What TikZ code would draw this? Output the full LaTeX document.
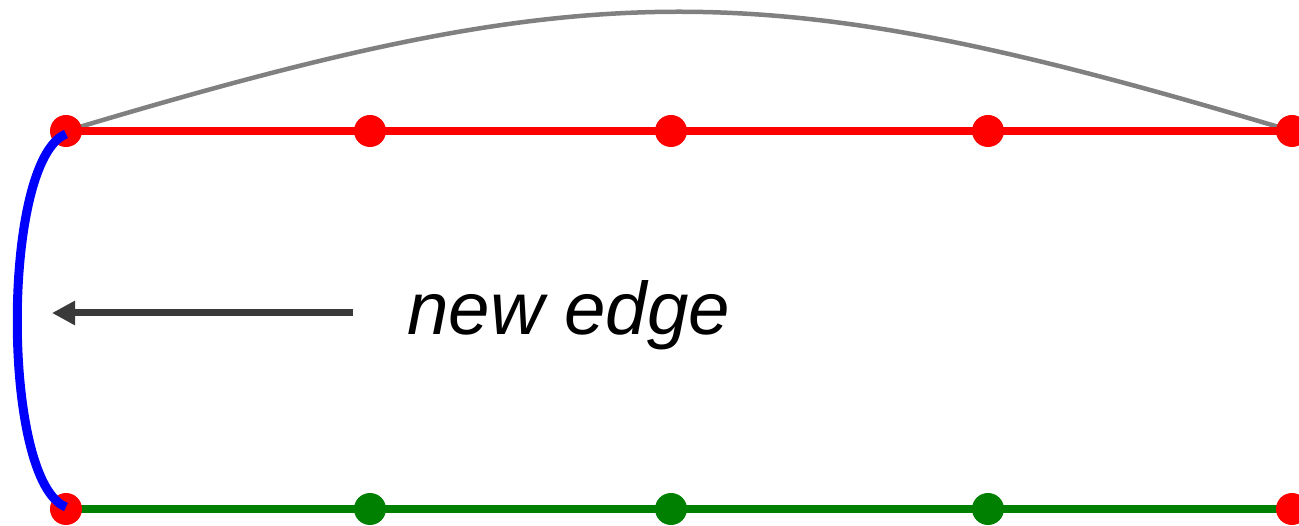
\documentclass[tikz,border=0pt]{standalone}
\usepackage{fontspec}
\setmainfont{Liberation Sans}
\usetikzlibrary{arrows.meta}
\definecolor{edgegray}{RGB}{128,128,128}
\definecolor{arrowgray}{RGB}{58,58,58}
\definecolor{pathgreen}{RGB}{0,128,0}
\tikzset{
  vred/.style={circle,fill=red,inner sep=0pt,minimum size=32pt},
  vgreen/.style={circle,fill=pathgreen,inner sep=0pt,minimum size=32pt},
  redpath/.style={draw=red,line width=8.5pt},
  greenpath/.style={draw=pathgreen,line width=8.5pt},
  graycurve/.style={draw=edgegray,line width=4.5pt},
  newedge/.style={draw=blue,line width=9pt},
  pointer/.style={draw=arrowgray,line width=7pt,-{Triangle[length=23pt,width=23pt]}},
}
\pgfdeclarelayer{bg}
\pgfsetlayers{bg,main}
\begin{document}
\begin{tikzpicture}[x=1pt,y=-1pt]
\useasboundingbox (0,0) rectangle (1299,526);
% vertices
\node[vred] (t1) at (66,131) {};
\node[vred] (t2) at (370,131) {};
\node[vred] (t3) at (671,131) {};
\node[vred] (t4) at (988,131) {};
\node[vred] (t5) at (1292,131) {};
\node[vred] (b1) at (66,509) {};
\node[vgreen] (b2) at (370,509) {};
\node[vgreen] (b3) at (671,509) {};
\node[vgreen] (b4) at (988,509) {};
\node[vred] (b5) at (1292,509) {};
% edges behind vertices
\begin{pgfonlayer}{bg}
\draw[graycurve] (t1.center) .. controls (596,-28) and (762,-28) .. (t5.center);
\draw[redpath] (t1.center) -- (t2.center) -- (t3.center) -- (t4.center) -- (t5.center);
\draw[greenpath] (b1.center) -- (b2.center) -- (b3.center) -- (b4.center) -- (b5.center);
\end{pgfonlayer}
% new edge on top
\draw[newedge] ([yshift=-3pt]t1.center) .. controls (1,160) and (1,482) .. ([yshift=2pt]b1.center);
% pointer and label
\coordinate (ptail) at (353,313);
\coordinate (phead) at (52,313);
\draw[pointer] (ptail) -- (phead);
\node[anchor=base west,inner sep=0pt,font=\fontsize{74.5}{88}\selectfont\itshape] (lbl) at (407,335) {new edge};
\end{tikzpicture}
\end{document}
